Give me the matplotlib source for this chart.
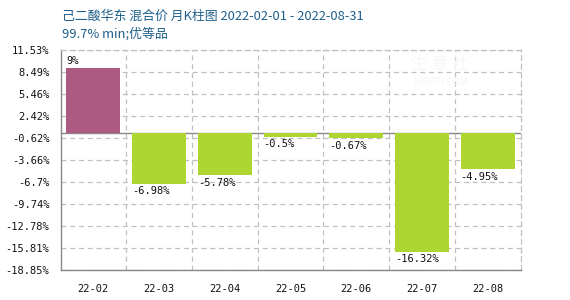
import matplotlib
matplotlib.use("Agg")
import matplotlib.pyplot as plt
import numpy as np

plt.rcParams['font.family'] = ['Noto Sans CJK SC', 'DejaVu Sans']

categories = ["22-02", "22-03", "22-04", "22-05", "22-06", "22-07", "22-08"]
values = [9.0, -6.98, -5.78, -0.5, -0.67, -16.32, -4.95]
labels = ["9%", "-6.98%", "-5.78%", "-0.5%", "-0.67%", "-16.32%", "-4.95%"]
tick_labels = ["11.53%", "8.49%", "5.46%", "2.42%", "-0.62%", "-3.66%",
               "-6.7%", "-9.74%", "-12.78%", "-15.81%", "-18.85%"]
tick_values = [11.53, 8.49, 5.46, 2.42, -0.62, -3.66, -6.7, -9.74, -12.78, -15.81, -18.85]

up_color = "#ad5a82"
down_color = "#add633"
title_color = "#1f5f8b"

fig = plt.figure(figsize=(5.7, 3.0), dpi=100)
ax = fig.add_axes([60.5 / 570, 30 / 300, 460 / 570, 220 / 300])

x = np.arange(len(categories))
ax.set_xlim(-0.5, len(categories) - 0.5)
ax.set_ylim(-18.85, 11.53)

# grid
for tv in tick_values:
    ax.axhline(tv, color="#c0c0c0", linestyle=(0, (4, 3)), linewidth=0.9, zorder=1)
for b in np.arange(0.5, len(categories) - 0.5, 1):
    ax.axvline(b, color="#c0c0c0", linestyle=(0, (4, 3)), linewidth=0.9, zorder=1)
ax.axhline(0, color="#888888", linewidth=1.0, zorder=2)

colors = [up_color if v >= 0 else down_color for v in values]
bw = 0.82
ax.bar(x, values, width=bw, color=colors, zorder=3)

for xi, v, lab in zip(x, values, labels):
    if v >= 0:
        ax.text(xi - bw / 2, v + 0.3, lab, ha="left", va="bottom", fontsize=7.5,
                family="DejaVu Sans Mono", color="#111111", zorder=4)
    else:
        ax.text(xi - bw / 2, v - 0.3, lab, ha="left", va="top", fontsize=7.5,
                family="DejaVu Sans Mono", color="#111111", zorder=4)

ax.set_yticks(tick_values)
ax.set_yticklabels(tick_labels, family="DejaVu Sans Mono", fontsize=7.5, color="#111111")
ax.set_xticks(x)
ax.set_xticklabels(categories, family="DejaVu Sans Mono", fontsize=7.5, color="#111111")
ax.tick_params(axis="both", length=0)
ax.tick_params(axis="y", pad=8)
ax.tick_params(axis="x", pad=10)

for s in ["left", "bottom"]:
    ax.spines[s].set_color("#888888")
    ax.spines[s].set_linewidth(1.0)
for s in ["top", "right"]:
    ax.spines[s].set_color("#c0c0c0")
    ax.spines[s].set_linestyle((0, (4, 3)))
    ax.spines[s].set_linewidth(0.9)

# watermark
fig.text(440 / 570, 1 - 65 / 300, "生 意 社", fontsize=12, color="#f6f6f6", ha="center", va="center", zorder=0)
fig.text(440 / 570, 1 - 82 / 300, "100PPI.COM", fontsize=7, color="#f6f6f6", ha="center", va="center", zorder=0)

fig.text(62 / 570, 1 - 16 / 300, "己二酸华东 混合价 月K柱图 2022-02-01 - 2022-08-31",
         fontsize=9.3, color=title_color, ha="left", va="center")
fig.text(62 / 570, 1 - 34 / 300, "99.7% min;优等品",
         fontsize=9.3, color=title_color, ha="left", va="center")

fig.savefig("out.png", dpi=100)
